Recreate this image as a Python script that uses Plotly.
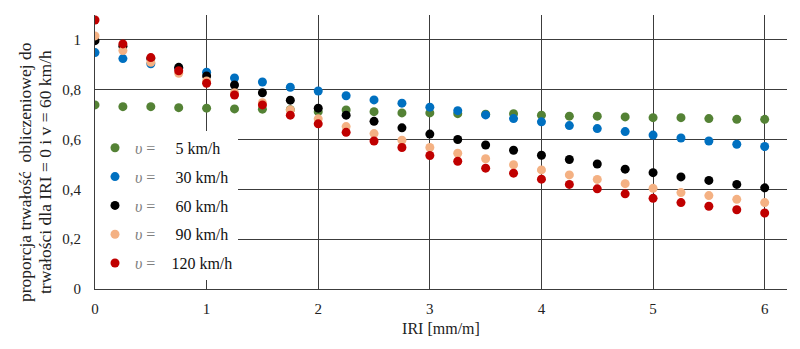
import plotly.graph_objects as go

iri = [0, 0.25, 0.5, 0.75, 1, 1.25, 1.5, 1.75, 2, 2.25, 2.5, 2.75, 3,
       3.25, 3.5, 3.75, 4, 4.25, 4.5, 4.75, 5, 5.25, 5.5, 5.75, 6]

v5 = [0.739, 0.732, 0.732, 0.728, 0.726, 0.723, 0.722, 0.720, 0.712, 0.719,
      0.712, 0.707, 0.707, 0.704, 0.702, 0.704, 0.698, 0.694, 0.694, 0.691,
      0.688, 0.688, 0.684, 0.681, 0.681]
v30 = [0.949, 0.925, 0.904, 0.886, 0.870, 0.847, 0.831, 0.810, 0.795, 0.776,
       0.759, 0.746, 0.730, 0.716, 0.699, 0.684, 0.671, 0.656, 0.644, 0.632,
       0.618, 0.606, 0.594, 0.581, 0.572]
v60 = [0.997, 0.975, 0.925, 0.890, 0.855, 0.819, 0.788, 0.758, 0.726, 0.698,
       0.673, 0.647, 0.622, 0.600, 0.578, 0.557, 0.537, 0.520, 0.502, 0.481,
       0.467, 0.450, 0.436, 0.420, 0.406]
v90 = [1.016, 0.957, 0.910, 0.866, 0.835, 0.788, 0.748, 0.719, 0.683, 0.652,
       0.624, 0.597, 0.568, 0.545, 0.523, 0.499, 0.478, 0.458, 0.440, 0.423,
       0.404, 0.387, 0.375, 0.360, 0.347]
v120 = [1.080, 0.984, 0.929, 0.876, 0.826, 0.779, 0.739, 0.698, 0.663, 0.629,
        0.594, 0.568, 0.536, 0.513, 0.485, 0.465, 0.441, 0.420, 0.402, 0.382,
        0.364, 0.347, 0.332, 0.318, 0.305]

speeds = ["5", "30", "60", "90", "120"]
series = [v5, v30, v60, v90, v120]
colors = ["#548235", "#0070C0", "#000000", "#F4B183", "#C00000"]
pads = [5, 5, 5, 5, 4]

ytitle_lines = ["proporcja trwałość  obliczeniowej do",
                "trwałości dla IRI = 0 i v = 60 km/h"]

SERIF = "Liberation Serif"
NB = "\u00a0"

fig = go.Figure()
for s, ys, c, p in zip(speeds, series, colors, pads):
    label = ("<span style='color:#7f7f7f'><i>υ</i> =</span>" + NB * p + s + " km/h")
    fig.add_trace(go.Scatter(
        x=iri, y=ys, mode="markers", name=label, legendgroup=s,
        marker=dict(color=c, size=9, line=dict(width=0)),
    ))

grid = "#3c3c3c"
fig.update_layout(
    width=800, height=349,
    margin=dict(l=95, r=13, t=15, b=60),
    paper_bgcolor="white", plot_bgcolor="white",
    separators=", ",
    font=dict(family=SERIF, size=15, color="#222222"),
    showlegend=True,
    legend=dict(
        x=0.0, y=0.577, xanchor="left", yanchor="top",
        bgcolor="white", borderwidth=0,
        font=dict(family=SERIF, size=16, color="#111111"),
        tracegroupgap=5, itemwidth=30,
    ),
    xaxis=dict(
        range=[0, 6.2], dtick=1, tick0=0,
        showgrid=True, gridcolor=grid, gridwidth=1,
        showline=True, linecolor=grid, linewidth=1,
        zeroline=False, ticks="", ticklabelstandoff=6,
        tickfont=dict(family=SERIF, size=15, color="#222222"),
        title=dict(text="IRI [mm/m]", standoff=6,
                   font=dict(family=SERIF, size=16, color="#222222")),
    ),
    yaxis=dict(
        range=[0, 1.1], dtick=0.2, tick0=0,
        showgrid=True, gridcolor=grid, gridwidth=1,
        showline=True, linecolor=grid, linewidth=1,
        zeroline=False, ticks="", ticklabelstandoff=10,
        tickfont=dict(family=SERIF, size=15, color="#222222"),
    ),
)

for txt, xs in zip(ytitle_lines, [-70, -50]):
    fig.add_annotation(
        text=txt, xref="paper", yref="paper", x=0, y=0.427,
        xanchor="center", yanchor="middle", xshift=xs,
        textangle=-90, showarrow=False,
        font=dict(family=SERIF, size=17.5, color="#222222"),
    )

fig.write_html("out.html")
